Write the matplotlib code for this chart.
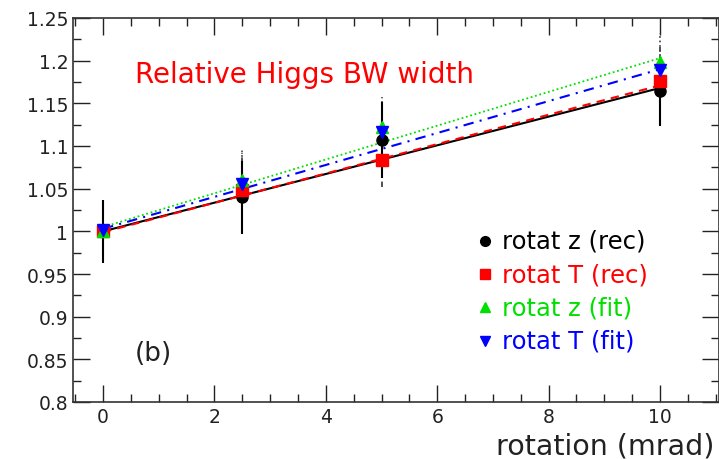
import numpy as np
import matplotlib.pyplot as plt
from matplotlib.ticker import MultipleLocator

rotation = [0, 2.5, 5, 10]

# relative BW width for each rotation mode
rec_z = [1.000, 1.040, 1.107, 1.164]
rec_T = [1.000, 1.049, 1.084, 1.176]
fit_z = [1.000, 1.060, 1.122, 1.198]
fit_T = [1.002, 1.056, 1.116, 1.189]
err_rec_z = [0.037, 0.043, 0.045, 0.040]
err_rec_T = [0.037, 0.043, 0.032, 0.040]
err_fit = [0.037, 0.036, 0.035, 0.035]

# straight-line fits: (value at 0, value at 10)
line_rec_z = [1.000, 1.168]
line_rec_T = [0.999, 1.171]
line_fit_z = [1.005, 1.203]
line_fit_T = [1.003, 1.190]

labels = ['rotat z (rec)', 'rotat T (rec)', 'rotat z (fit)', 'rotat T (fit)']
colors = ['black', 'red', '#00e000', 'blue']

plt.rcParams['font.family'] = ['DejaVu Sans']
fig = plt.figure(figsize=(7.19, 4.6), dpi=100)
ax = fig.add_axes([73/719, (460-403)/460, (719-73)/719, (403-19)/460])

xl = [0, 10]
ax.plot(xl, line_fit_z, color=colors[2], ls=(0, (1, 1.5)), lw=1.3)
ax.plot(xl, line_fit_T, color=colors[3], ls=(0, (5, 3, 1, 3)), lw=1.5)
ax.plot(xl, line_rec_z, color='black', ls='-', lw=1.5)
ax.plot(xl, line_rec_T, color=colors[1], ls=(0, (4, 3)), lw=1.5)

# error bars: rec solid/dashed, fit dotted grey
ax.errorbar(rotation[1:], fit_z[1:], yerr=err_fit[1:], fmt='none', ecolor='#555555',
            elinewidth=1.3, capsize=0)[2][0].set_linestyle((0, (1, 1.5)))
ax.errorbar(rotation[1:], rec_T[1:], yerr=err_rec_T[1:], fmt='none', ecolor='#444444',
            elinewidth=1.3, capsize=0)[2][0].set_linestyle((0, (3, 2)))
ax.errorbar(rotation, rec_z, yerr=err_rec_z, fmt='none', ecolor='black',
            elinewidth=1.5, capsize=0)

ax.plot(rotation, rec_z, 'o', color=colors[0], ms=8)
ax.plot(rotation, rec_T, 's', color=colors[1], ms=8)
ax.plot(rotation, fit_z, '^', color=colors[2], ms=8)
ax.plot(rotation, fit_T, 'v', color=colors[3], ms=8)

ax.set_xlim(-0.54, 11.06)
ax.set_ylim(0.8, 1.25)
ax.xaxis.set_major_locator(MultipleLocator(2))
ax.xaxis.set_minor_locator(MultipleLocator(0.5))
ax.yaxis.set_major_locator(MultipleLocator(0.05))
ax.yaxis.set_minor_locator(MultipleLocator(0.025))
ax.tick_params(which='both', direction='in', top=True, right=True,
               labelsize=13.5, colors='#222222', width=1.0)
ax.tick_params(which='major', length=12)
ax.tick_params(which='minor', length=6)
ax.yaxis.set_major_formatter(plt.FuncFormatter(lambda v, p: ('%.2f' % v).rstrip('0').rstrip('.')))
for s in ax.spines.values():
    s.set_linewidth(1.2)
    s.set_color('#333333')

ax.text(0.575, 1.175, 'Relative Higgs BW width', color='red', fontsize=20,
        va='baseline')
ax.text(0.575, 0.858, '(b)', color='#222222', fontsize=19, va='center')
fig.text(714/719, 1 - 447/460, 'rotation (mrad)', ha='right', va='center',
         fontsize=20.5, color='#222222')

# legend drawn by hand
mk = ['o', 's', '^', 'v']
for i, (lab, c) in enumerate(zip(labels, colors)):
    y = 0.989 - i * 0.039
    ax.plot([6.86], [y], mk[i], color=c, ms=7)
    ax.text(7.16, y, lab, color=c, fontsize=17.5, va='center')

fig.savefig('out.png', dpi=100)
